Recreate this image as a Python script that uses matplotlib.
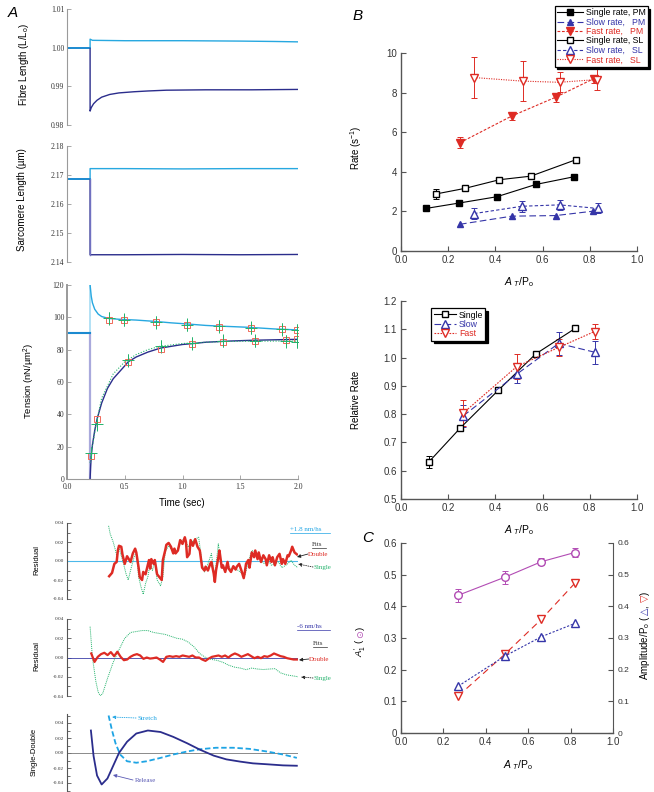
import matplotlib
matplotlib.use("Agg")
import matplotlib.pyplot as plt
import numpy as np
from matplotlib.lines import Line2D
from matplotlib.ticker import MultipleLocator, FormatStrFormatter, FuncFormatter

plt.rcParams["font.family"] = ["Liberation Sans", "DejaVu Sans"]
plt.rcParams["axes.unicode_minus"] = False
plt.rcParams["mathtext.fontset"] = "custom"
plt.rcParams["mathtext.rm"] = "Liberation Sans"
plt.rcParams["mathtext.it"] = "Liberation Sans:italic"
plt.rcParams["xtick.direction"] = "in"
plt.rcParams["ytick.direction"] = "in"

CYAN = "#27a8e0"
PRE = "#1b8ad0"
NAVY = "#2b2d8c"
LAV = "#a9a9dc"
RED = "#de2b24"
GREEN = "#22b36b"
BLUE = "#3535a8"
PURPLE = "#b24cb4"
GREY = "#9a9a9a"
SERIF = "Liberation Serif"

"""
data, panel A
"""
step_t = 0.2

fibre_pre = 1.0000
fibre_stretch_t = [0.2, 0.22, 0.5, 1.0, 1.5, 1.8, 2.0]
fibre_stretch = [1.0022, 1.0019, 1.0018, 1.0018, 1.0017, 1.0016, 1.0015]
fibre_release_t = [0.2, 0.21, 0.23, 0.26, 0.3, 0.37, 0.45, 0.58, 0.7, 0.86, 1.2, 1.6, 2.0]
fibre_release = [0.9836, 0.9845, 0.9855, 0.9864, 0.9872, 0.9879, 0.9883, 0.9886, 0.9888, 0.9890, 0.9891, 0.9891, 0.9892]

sarc_pre = 2.1687
sarc_stretch_t = [0.2, 0.5, 1.0, 1.5, 2.0]
sarc_stretch = [2.1722, 2.1722, 2.1721, 2.1722, 2.1722]
sarc_release_t = [0.2, 0.5, 1.0, 1.5, 2.0]
sarc_release = [2.1425, 2.1425, 2.1426, 2.1425, 2.1426]

tension_pre = 90.5
stretch_t = [0.2, 0.21, 0.22, 0.24, 0.27, 0.3, 0.36, 0.45, 0.6, 0.76, 0.9, 1.04, 1.2, 1.31, 1.45, 1.58, 1.8, 2.0]
stretch_tension = [120, 113, 109, 105, 102, 100.5, 99.3, 98.8, 98.3, 97.5, 96.6, 95.9, 95.0, 94.6, 94.2, 93.8, 92.8, 92.2]
release_t = [0.2, 0.205, 0.21, 0.22, 0.24, 0.26, 0.3, 0.35, 0.4, 0.5, 0.53, 0.6, 0.7, 0.81, 1.0, 1.08, 1.2, 1.4, 1.6, 1.8, 2.0]
release_tension = [0, 8, 14, 21, 30, 37, 47, 56, 62, 70, 72.5, 75.5, 78.5, 81, 83.2, 83.7, 84.6, 85.3, 85.8, 86.1, 86.4]
single_fit_t = [0.2, 0.21, 0.25, 0.3, 0.4, 0.5, 0.6, 0.7, 0.8, 1.0, 1.2, 1.4, 1.6, 2.0]
single_fit = [10, 16, 33, 50, 65, 72.5, 77, 80, 82, 83.8, 84.6, 85.1, 85.3, 85.3]

sq_stretch_t = [0.36, 0.495, 0.77, 1.04, 1.315, 1.59, 1.86, 1.99]
sq_stretch = [98.3, 98.3, 97.0, 95.2, 94.2, 93.4, 92.7, 92.0]
cr_stretch = [99.3, 98.5, 97.0, 95.5, 94.6, 93.6, 92.6, 92.1]
sq_release_t = [0.205, 0.26, 0.53, 0.81, 1.08, 1.35, 1.63, 1.9, 1.99]
sq_release = [14, 37, 72.5, 80.5, 83.7, 85.0, 85.6, 86.0, 86.6]
cr_release = [16, 34, 73.5, 82, 84, 85.5, 85.5, 85.3, 85.0]
cr_err = 4.0

res1_t = [0.365, 0.39, 0.41, 0.43, 0.44, 0.45, 0.47, 0.48, 0.50, 0.52, 0.55, 0.57, 0.59, 0.60,
          0.62, 0.63, 0.65, 0.66, 0.68, 0.71, 0.72, 0.73, 0.75, 0.76, 0.78, 0.80, 0.82, 0.83,
          0.85, 0.86, 0.88, 0.90, 0.92, 0.93, 0.94, 0.96, 0.98, 1.00, 1.02, 1.03, 1.04, 1.06,
          1.07, 1.09, 1.11, 1.13, 1.15, 1.17, 1.19, 1.20, 1.22, 1.24, 1.25, 1.27, 1.28, 1.29,
          1.31, 1.32, 1.34, 1.35, 1.37, 1.39, 1.40, 1.42, 1.44, 1.46, 1.47, 1.49, 1.51, 1.53,
          1.54, 1.55, 1.57, 1.58, 1.60, 1.62, 1.63, 1.65, 1.66, 1.68, 1.70, 1.72, 1.73, 1.75,
          1.77, 1.78, 1.80, 1.82, 1.84, 1.86, 1.87, 1.89, 1.91, 1.92, 1.94, 1.95, 1.97, 1.99]
res1_double = [-0.016, -0.0125, -0.003, -0.001, 0.011, 0.016, 0.015, 0.007, -0.003, 0.005, -0.001,
               0.008, 0.013, 0.009, -0.007, -0.017, -0.020, -0.0115, -0.014, 0.001, -0.008, 0.002,
               -0.003, 0.001, -0.014, -0.017, -0.020, 0.001, 0.011, 0.017, 0.019, 0.015, 0.008,
               0.013, 0.008, 0.011, 0.022, 0.018, 0.025, 0.020, 0.004, 0.0075, 0.022, 0.016, 0.023,
               0.015, 0.011, -0.007, -0.010, -0.006, -0.010, -0.003, -0.001, -0.013, -0.022, -0.010,
               0.0035, 0.011, -0.007, -0.0045, -0.0115, -0.001, -0.008, -0.0115, -0.0055, -0.009,
               -0.006, -0.003, -0.010, -0.018, -0.0115, -0.003, 0.001, -0.007, 0.009, 0.004, 0.011,
               0.002, 0.009, -0.001, 0.006, 0.002, -0.0045, 0.006, -0.001, 0.004, -0.0045, 0.004,
               0.0075, -0.003, 0.002, -0.003, 0.006, 0.005, 0.011, 0.015, 0.009, 0.007]
res1_single_t = [0.36, 0.374, 0.40, 0.42, 0.43, 0.45, 0.46, 0.49, 0.51, 0.53, 0.55, 0.58, 0.60,
                 0.62, 0.64, 0.66, 0.68, 0.70, 0.72, 0.74, 0.76, 0.78, 0.81, 0.83, 0.85, 0.88,
                 0.91, 0.94, 0.96, 0.99, 1.02, 1.05, 1.08, 1.11, 1.14, 1.17, 1.19, 1.22, 1.25,
                 1.28, 1.31, 1.34, 1.37, 1.40, 1.42, 1.45, 1.48, 1.51, 1.54, 1.57, 1.60, 1.63,
                 1.65, 1.68, 1.71, 1.74, 1.77, 1.80, 1.83, 1.86, 1.88, 1.91, 1.94, 1.97, 2.0]
res1_single = [0.037, 0.0285, 0.020, 0.011, 0.006, 0.0146, 0.0094, -0.003, -0.013, -0.020, -0.010,
               0.004, 0.0094, -0.0167, -0.027, -0.035, -0.0237, -0.0167, -0.003, -0.010, 0.0007,
               -0.020, -0.026, -0.0167, 0.0094, 0.016, 0.011, 0.0094, 0.013, 0.0216, 0.023, 0.0146,
               0.020, 0.023, 0.025, -0.003, -0.0115, -0.003, 0.0077, -0.0167, 0.018, -0.0063,
               -0.0104, -0.0056, -0.009, -0.007, -0.0097, -0.0125, -0.015, -0.001, 0.011, 0.0094,
               0.004, 0.0007, -0.003, 0.0007, -0.0045, -0.003, -0.001, -0.007, -0.0056, -0.003,
               0.0007, -0.0045, -0.007]

res2_double = [0.0042, -0.0046, 0.0007, 0.0035, 0.0049, 0.0025, 0.0056, 0.0014, 0.006, 0.0007,
               -0.0028, -0.0021, 0.0007, 0.0025, 0.0035, 0.0021, -0.0014, 0.0, -0.0011, -0.0007,
               0.0, -0.0021, -0.0046, 0.0007, 0.0014, 0.0007, 0.0014, 0.0007, 0.0021, 0.0014,
               0.0007, 0.0021, 0.0, 0.0, -0.0021, -0.0035, -0.0011, 0.0007, 0.0014, 0.0021,
               0.0007, 0.0021, 0.0, 0.0025, 0.0042, 0.0028, 0.0007, 0.0021, 0.0035, 0.0014,
               -0.0007, 0.0007, -0.0007, 0.0014, 0.0007, 0.0021, 0.0042, 0.0028, 0.0014, 0.0007,
               -0.0007, -0.0014, -0.0021, -0.0021]
res2_double_t = np.linspace(0.21, 1.99, len(res2_double))
res2_single_t = [0.2, 0.22, 0.25, 0.27, 0.29, 0.31, 0.35, 0.4, 0.45, 0.5, 0.55, 0.6, 0.65, 0.7,
                 0.75, 0.8, 0.85, 0.9, 0.95, 1.0, 1.05, 1.1, 1.15, 1.2, 1.25, 1.3, 1.35, 1.4,
                 1.45, 1.5, 1.55, 1.6, 1.65, 1.7, 1.75, 1.8, 1.85, 1.9, 1.95, 2.0]
res2_single = [0.032, 0.0, -0.025, -0.036, -0.040, -0.037, -0.022, -0.005, 0.008, 0.020, 0.026,
               0.027, 0.028, 0.028, 0.026, 0.025, 0.024, 0.022, 0.020, 0.019, 0.016, 0.011, 0.004,
               0.0, -0.002, -0.003, -0.005, -0.008, -0.010, -0.011, -0.0126, -0.011, -0.012,
               -0.0125, -0.012, -0.0116, -0.016, -0.018, -0.019, -0.020]

diff_release_t = [0.207, 0.23, 0.26, 0.30, 0.35, 0.40, 0.45, 0.52, 0.60, 0.70, 0.81, 0.92, 1.04,
                  1.15, 1.27, 1.38, 1.50, 1.61, 1.73, 1.87, 1.99]
diff_release = [0.030, -0.004, -0.030, -0.042, -0.034, -0.017, 0.0, 0.015, 0.026, 0.030, 0.028,
                0.0215, 0.013, 0.0045, -0.0035, -0.0085, -0.0115, -0.0138, -0.015, -0.0165, -0.017]
diff_stretch_t = [0.36, 0.39, 0.42, 0.46, 0.52, 0.60, 0.69, 0.81, 0.92, 1.04, 1.15, 1.29, 1.44,
                  1.58, 1.73, 1.87, 1.99]
diff_stretch = [0.050, 0.030, 0.013, -0.002, -0.011, -0.013, -0.011, -0.0065, -0.002, 0.002,
                0.005, 0.007, 0.007, 0.0055, 0.002, -0.002, -0.0065]

"""
data, panel B and C
"""
pm_single_x = [0.106, 0.245, 0.406, 0.571, 0.733]
pm_single = [2.15, 2.42, 2.74, 3.36, 3.75]
pm_slow_x = [0.25, 0.47, 0.656, 0.813]
pm_slow = [1.35, 1.76, 1.79, 2.01]
pm_fast_x = [0.25, 0.47, 0.656, 0.816]
pm_fast = [5.47, 6.82, 7.77, 8.70]
pm_fast_err = [0.28, 0.22, 0.22, 0.2]
sl_single_x = [0.148, 0.27, 0.417, 0.55, 0.741]
sl_single = [2.88, 3.16, 3.6, 3.78, 4.61]
sl_single_err = [0.25, 0.08, 0.06, 0.15, 0.08]
sl_slow_x = [0.31, 0.513, 0.672, 0.834]
sl_slow = [1.89, 2.26, 2.33, 2.15]
sl_slow_err = [0.26, 0.27, 0.27, 0.25]
sl_fast_x = [0.31, 0.515, 0.672, 0.83]
sl_fast = [8.76, 8.58, 8.52, 8.66]
sl_fast_err = [1.05, 1.0, 0.5, 0.55]

rel_single_x = [0.117, 0.25, 0.413, 0.571, 0.738]
rel_single = [0.63, 0.75, 0.885, 1.013, 1.103]
rel_single_err = [0.022, 0.01, 0.01, 0.01, 0.01]
rel_slow_x = [0.264, 0.49, 0.668, 0.82]
rel_slow = [0.794, 0.941, 1.05, 1.019]
rel_slow_err = [0.04, 0.03, 0.04, 0.04]
rel_fast_x = [0.264, 0.49, 0.668, 0.82]
rel_fast = [0.804, 0.968, 1.036, 1.092]
rel_fast_err = [0.045, 0.045, 0.03, 0.025]

c_x = [0.27, 0.49, 0.662, 0.82]
c_a1 = [0.435, 0.492, 0.541, 0.570]
c_a1_err = [0.02, 0.02, 0.012, 0.013]
c_slow_amp = [0.148, 0.243, 0.304, 0.346]
c_fast_amp = [0.117, 0.249, 0.359, 0.473]

"""
layout helpers
"""
W, H = 654, 792
fig = plt.figure(figsize=(W / 100, H / 100), dpi=100)


def px_axes(x0, y0, x1, y1):
    return fig.add_axes([x0 / W, 1 - y1 / H, (x1 - x0) / W, (y1 - y0) / H])


def P(x, y):
    return (x / W, 1 - y / H)


def ftext(x, y, s, **kw):
    return fig.text(*P(x, y), s, **kw)


def underline(x0, x1, y, color):
    fig.add_artist(Line2D([x0 / W, x1 / W], [1 - y / H] * 2, transform=fig.transFigure, color=color, lw=0.5))


def arrow(x_text, y_text, x_tip, y_tip, color, ls="-"):
    fig.add_artist(plt.Annotation("", xy=P(x_tip, y_tip), xytext=P(x_text, y_text), xycoords="figure fraction",
                                  arrowprops=dict(arrowstyle="-|>", color=color, lw=0.6, ls=ls,
                                                  mutation_scale=5, shrinkA=0, shrinkB=0)))


def rot_pieces(x, y, pieces, size):
    # rotated label built from coloured pieces, going upwards from (x, y)
    renderer = fig.canvas.get_renderer()
    for s, color in pieces:
        t = ftext(x, y, s, rotation=90, rotation_mode="anchor", ha="left", va="baseline",
                  color=color, fontsize=size)
        bb = t.get_window_extent(renderer)
        y -= bb.height


def left_style(ax, ylim, major, fmt, size=5.5, minor=None, color=GREY):
    for s in ("top", "right", "bottom"):
        ax.spines[s].set_visible(False)
    ax.spines["left"].set_color(color)
    ax.set_xlim(0, 2.0)
    ax.set_ylim(*ylim)
    ax.yaxis.set_major_locator(MultipleLocator(major))
    ax.yaxis.set_major_formatter(FormatStrFormatter(fmt))
    if minor:
        ax.yaxis.set_minor_locator(MultipleLocator(minor))
    ax.tick_params(axis="y", which="both", labelsize=size, labelfontfamily=SERIF, labelcolor="#333333",
                   length=3, width=0.6, color=color, pad=2)
    ax.tick_params(axis="y", which="minor", length=2)
    ax.tick_params(axis="x", bottom=False, labelbottom=False)
    ax.patch.set_alpha(0)


def right_style(ax):
    for s in ("top", "right"):
        ax.spines[s].set_visible(False)
    for s in ("left", "bottom"):
        ax.spines[s].set_color("#555555")
        ax.spines[s].set_linewidth(1.0)
    ax.tick_params(labelsize=7, color="#555555", labelcolor="#333333", length=3.5, width=0.8, pad=3)


"""
panel A
"""
ax = px_axes(67, 9, 298, 125)
left_style(ax, (0.98, 1.01), 0.01, "%.2f")
ax.plot([0, step_t], [fibre_pre] * 2, color=PRE, lw=1.4)
ax.plot([step_t] + fibre_release_t, [fibre_pre] + fibre_release, color=NAVY, lw=1.0)
ax.plot([step_t] + fibre_stretch_t, [fibre_pre] + fibre_stretch, color=CYAN, lw=1.0)

ax = px_axes(67, 146, 298, 262)
left_style(ax, (2.14, 2.18), 0.01, "%.2f")
ax.plot([0, step_t], [sarc_pre] * 2, color=PRE, lw=1.4)
ax.plot([step_t] + sarc_release_t, [sarc_pre] + sarc_release, color=NAVY, lw=1.0)
ax.plot([step_t, step_t], [sarc_pre, sarc_release[0]], color="#7070c0", lw=1.0)
ax.plot([step_t] + sarc_stretch_t, [sarc_pre] + sarc_stretch, color=CYAN, lw=1.0)

ax = px_axes(67, 285, 298, 479)
left_style(ax, (0, 120), 20, "%d")
ax.spines["left"].set_linewidth(1.4)
ax.spines["bottom"].set_visible(True)
ax.spines["bottom"].set_color(GREY)
ax.tick_params(axis="x", bottom=True, labelbottom=True, labelsize=5.5, labelfontfamily=SERIF,
               labelcolor="#333333", length=3, width=0.6, color=GREY, pad=3)
ax.xaxis.set_major_locator(MultipleLocator(0.5))
ax.xaxis.set_major_formatter(FormatStrFormatter("%.1f"))
ax.plot([step_t, step_t], [0, tension_pre], color=LAV, lw=1.6)
ax.plot([step_t, step_t], [tension_pre, 120], color="#a6dcf3", lw=1.2)
ax.plot([0, step_t], [tension_pre] * 2, color=PRE, lw=1.5)
ax.plot(stretch_t, stretch_tension, color=CYAN, lw=1.0)
ax.plot(release_t, release_tension, color=NAVY, lw=1.0)
ax.plot(single_fit_t, single_fit, color=GREEN, lw=0.8, ls=(0, (1, 1.5)))
for tt, sq, cr in ((sq_stretch_t, sq_stretch, cr_stretch), (sq_release_t, sq_release, cr_release)):
    ax.errorbar(tt, cr, yerr=cr_err, fmt="+", color=GREEN, ms=9, mew=0.7, elinewidth=0.7, capsize=0)
    ax.plot(tt, sq, "s", mfc="none", mec="#f06a5a", ms=5, mew=0.7)

ax = px_axes(67, 523, 298, 599)
left_style(ax, (-0.04, 0.04), 0.02, "%.2f", size=3.8, minor=0.01, color="#555555")
ax.axhline(0, color="#4cb8ea", lw=0.8)
ax.plot(res1_single_t, res1_single, color=GREEN, lw=0.7, ls=(0, (1, 1)))
ax.plot(res1_t, res1_double, color=RED, lw=1.8)

ax = px_axes(67, 619, 298, 696)
left_style(ax, (-0.04, 0.04), 0.02, "%.2f", size=3.8, minor=0.01, color="#555555")
ax.axhline(0, color="#3b3ea8", lw=0.6)
ax.plot(res2_single_t, res2_single, color=GREEN, lw=0.7, ls=(0, (1, 1)))
ax.plot(res2_double_t, res2_double, color=RED, lw=1.6)

ax = px_axes(67, 714, 298, 792)
left_style(ax, (-0.052, 0.052), 0.02, "%.2f", size=3.8, minor=0.01, color="#555555")
ax.axhline(0, color="#777777", lw=0.6)
ax.plot(diff_stretch_t, diff_stretch, color="#1ea4e4", lw=1.3, ls=(0, (3, 1.5)))
ax.plot(diff_release_t, diff_release, color=NAVY, lw=1.3)

ftext(8, 13, "A", fontsize=11, style="italic", va="center")
ftext(24, 64, r"Fibre Length (L/L$_\mathrm{o}$)", rotation=90, fontsize=7, ha="center", va="center")
ftext(22, 200, "Sarcomere Length (µm)", rotation=90, fontsize=7, ha="center", va="center")
ftext(29, 381, r"Tension (nN/µm$^2$)", rotation=90, fontsize=6.8, ha="center", va="center")
ftext(182, 503, "Time (sec)", fontsize=7, ha="center", va="center")
ftext(37, 560, "Residual", rotation=90, fontsize=5.5, ha="center", va="center")
ftext(37, 656, "Residual", rotation=90, fontsize=5.5, ha="center", va="center")
ftext(34, 752, "Single-Double", rotation=90, fontsize=5.5, ha="center", va="center")

ftext(290, 531, "+1.8 nm/hs", color="#1ea4e4", fontsize=5, family=SERIF, va="baseline")
underline(290, 330, 533, "#1ea4e4")
ftext(312, 546, "Fits", color="#333333", fontsize=5, family=SERIF, va="baseline")
underline(312, 326, 548, "#333333")
ftext(308, 556, "Double", color=RED, fontsize=5, family=SERIF, va="baseline")
arrow(308, 554, 297, 557, "#222222")
ftext(313, 569, "Single", color=GREEN, fontsize=5, family=SERIF, va="baseline")
arrow(313, 567, 298, 564, "#222222", ls=":")

ftext(297, 628, "-6 nm/hs", color=BLUE, fontsize=5, family=SERIF, va="baseline")
underline(297, 330, 630, BLUE)
ftext(313, 645, "Fits", color="#333333", fontsize=5, family=SERIF, va="baseline")
underline(313, 327, 647, "#333333")
ftext(309, 661, "Double", color=RED, fontsize=5, family=SERIF, va="baseline")
arrow(309, 659, 299, 660, "#222222")
ftext(313, 680, "Single", color=GREEN, fontsize=5, family=SERIF, va="baseline")
arrow(313, 678, 301, 677, "#222222", ls=":")

ftext(138, 720, "Stretch", color="#1ea4e4", fontsize=5, family=SERIF, va="baseline")
arrow(136, 718, 112, 717, "#1ea4e4", ls=":")
ftext(135, 782, "Release", color="#5b5bb5", fontsize=5, family=SERIF, va="baseline")
arrow(133, 780, 113, 775, "#5b5bb5")

"""
panel B
"""
axB = px_axes(401, 53, 637, 251)
right_style(axB)
axB.set_xlim(0, 1.0)
axB.set_ylim(0, 10)
axB.xaxis.set_major_locator(MultipleLocator(0.2))
axB.xaxis.set_major_formatter(FormatStrFormatter("%.1f"))
axB.yaxis.set_major_locator(MultipleLocator(2))
eb = dict(fmt="none", elinewidth=0.7, capsize=2, capthick=0.7)
axB.errorbar(sl_single_x, sl_single, yerr=sl_single_err, ecolor="k", **eb)
axB.errorbar(sl_slow_x, sl_slow, yerr=sl_slow_err, ecolor=BLUE, **eb)
axB.errorbar(sl_fast_x, sl_fast, yerr=sl_fast_err, ecolor=RED, **eb)
axB.errorbar(pm_fast_x, pm_fast, yerr=pm_fast_err, ecolor=RED, **eb)
h1, = axB.plot(pm_single_x, pm_single, "-s", color="k", lw=0.8, ms=4.5, label="Single rate, PM")
h2, = axB.plot(pm_slow_x, pm_slow, "^", ls=(0, (6, 3)), color=BLUE, lw=0.8, ms=5, label="Slow rate,   PM")
h3, = axB.plot(pm_fast_x, pm_fast, "v", ls=(0, (2.5, 1.5)), color=RED, lw=0.8, ms=5.5, label="Fast rate,   PM")
h4, = axB.plot(sl_single_x, sl_single, "-s", color="k", mfc="white", lw=0.8, ms=5, label="Single rate, SL")
h5, = axB.plot(sl_slow_x, sl_slow, "^", ls=(0, (3, 2)), color=BLUE, mfc="white", lw=0.8, ms=5.5,
               label="Slow rate,   SL")
h6, = axB.plot(sl_fast_x, sl_fast, "v", ls=(0, (1, 1.2)), color=RED, mfc="white", lw=0.8, ms=6,
               label="Fast rate,   SL")
legB = fig.legend(handles=[h1, h2, h3, h4, h5, h6], loc="upper right", bbox_to_anchor=(0.997, 0.998),
                  fontsize=6.3, handlelength=3.0, handletextpad=0.3, borderpad=0.25, labelspacing=0.05,
                  fancybox=False, framealpha=1, edgecolor="k", shadow={"color": "k", "alpha": 1})
legB.get_frame().set_linewidth(0.9)
for txt, c in zip(legB.get_texts(), ["k", BLUE, RED, "k", BLUE, RED]):
    txt.set_color(c)

ftext(353, 16, "B", fontsize=11, style="italic", va="center")
ftext(356, 148, r"Rate (s$^{\mathrm{-1}}$)", rotation=90, fontsize=7, ha="center", va="center")
ATPO = r"$\mathit{A}_{\ \mathit{T}}$/P$_{\mathrm{o}}$"
ftext(519, 282, ATPO, fontsize=7.5, ha="center", va="center")

"""
relative rate
"""
axR = px_axes(401, 301, 637, 499)
right_style(axR)
axR.set_xlim(0, 1.0)
axR.set_ylim(0.5, 1.2)
axR.xaxis.set_major_locator(MultipleLocator(0.2))
axR.xaxis.set_major_formatter(FormatStrFormatter("%.1f"))
axR.yaxis.set_major_locator(MultipleLocator(0.1))
axR.yaxis.set_major_formatter(FormatStrFormatter("%.1f"))
axR.errorbar(rel_single_x, rel_single, yerr=rel_single_err, ecolor="k", **eb)
axR.errorbar(rel_slow_x, rel_slow, yerr=rel_slow_err, ecolor=BLUE, **eb)
axR.errorbar(rel_fast_x, rel_fast, yerr=rel_fast_err, ecolor=RED, **eb)
r1, = axR.plot(rel_single_x, rel_single, "-s", color="k", mfc="white", lw=0.8, ms=5, label="Single")
r2, = axR.plot(rel_slow_x, rel_slow, "^", ls=(0, (6, 3)), color=BLUE, mfc="white", lw=0.8, ms=5.5, label="Slow")
r3, = axR.plot(rel_fast_x, rel_fast, "v", ls=(0, (1.5, 1.2)), color=RED, mfc="white", lw=0.8, ms=6, label="Fast")
legR = axR.legend(handles=[r1, r2, r3], loc="upper left", bbox_to_anchor=(0.11, 0.985), fontsize=6.3,
                  handlelength=2.6, handletextpad=0.3, borderpad=0.25, labelspacing=0.05, fancybox=False,
                  framealpha=1, edgecolor="k", shadow={"color": "k", "alpha": 1})
legR.get_frame().set_linewidth(0.9)
for txt, c in zip(legR.get_texts(), ["k", BLUE, RED]):
    txt.set_color(c)
ftext(356, 400, "Relative Rate", rotation=90, fontsize=7, ha="center", va="center")
ftext(519, 530, ATPO, fontsize=7.5, ha="center", va="center")

"""
panel C
"""
axC = px_axes(401, 543, 613, 733)
right_style(axC)
axC.spines["right"].set_visible(True)
axC.spines["right"].set_color("#555555")
axC.set_xlim(0, 1.0)
axC.set_ylim(0, 0.6)
zero_fmt = FuncFormatter(lambda v, p: "0" if abs(v) < 1e-9 else f"{v:.1f}")
axC.xaxis.set_major_locator(MultipleLocator(0.2))
axC.xaxis.set_major_formatter(FormatStrFormatter("%.1f"))
axC.yaxis.set_major_locator(MultipleLocator(0.1))
axC.yaxis.set_major_formatter(zero_fmt)
axC2 = axC.twinx()
axC2.set_ylim(0, 0.6)
axC2.yaxis.set_major_locator(MultipleLocator(0.1))
axC2.yaxis.set_major_formatter(zero_fmt)
for s in ("top", "left", "bottom", "right"):
    axC2.spines[s].set_visible(False)
axC2.tick_params(labelsize=6, color="#555555", labelcolor="#333333", length=3.5, width=0.8, pad=3)
axC.errorbar(c_x, c_a1, yerr=c_a1_err, ecolor=PURPLE, **eb)
axC.plot(c_x, c_a1, "-o", color=PURPLE, mfc="white", lw=0.8, ms=5.5)
axC2.plot(c_x, c_fast_amp, "v", ls=(0, (6, 4)), color=RED, mfc="white", lw=0.8, ms=6)
axC2.plot(c_x, c_slow_amp, "^", ls=(0, (2, 1.5)), color=BLUE, mfc="white", lw=0.8, ms=5.5)

ftext(362, 538, "C", fontsize=11, style="italic", va="center")
ftext(518, 765, ATPO, fontsize=7.5, ha="center", va="center")
rot_pieces(363, 657, [(r"$A^{\prime}_{1}$ (", "k"), ("⊙", PURPLE), (")", "k")], 6.8)
rot_pieces(648, 680, [(r"Amplitude/P$_{\mathrm{o}}$ (", "k"), ("△", BLUE), (", ", "k"), ("▽", RED),
                      (")", "k")], 7)

fig.savefig("out.png", dpi=100)
